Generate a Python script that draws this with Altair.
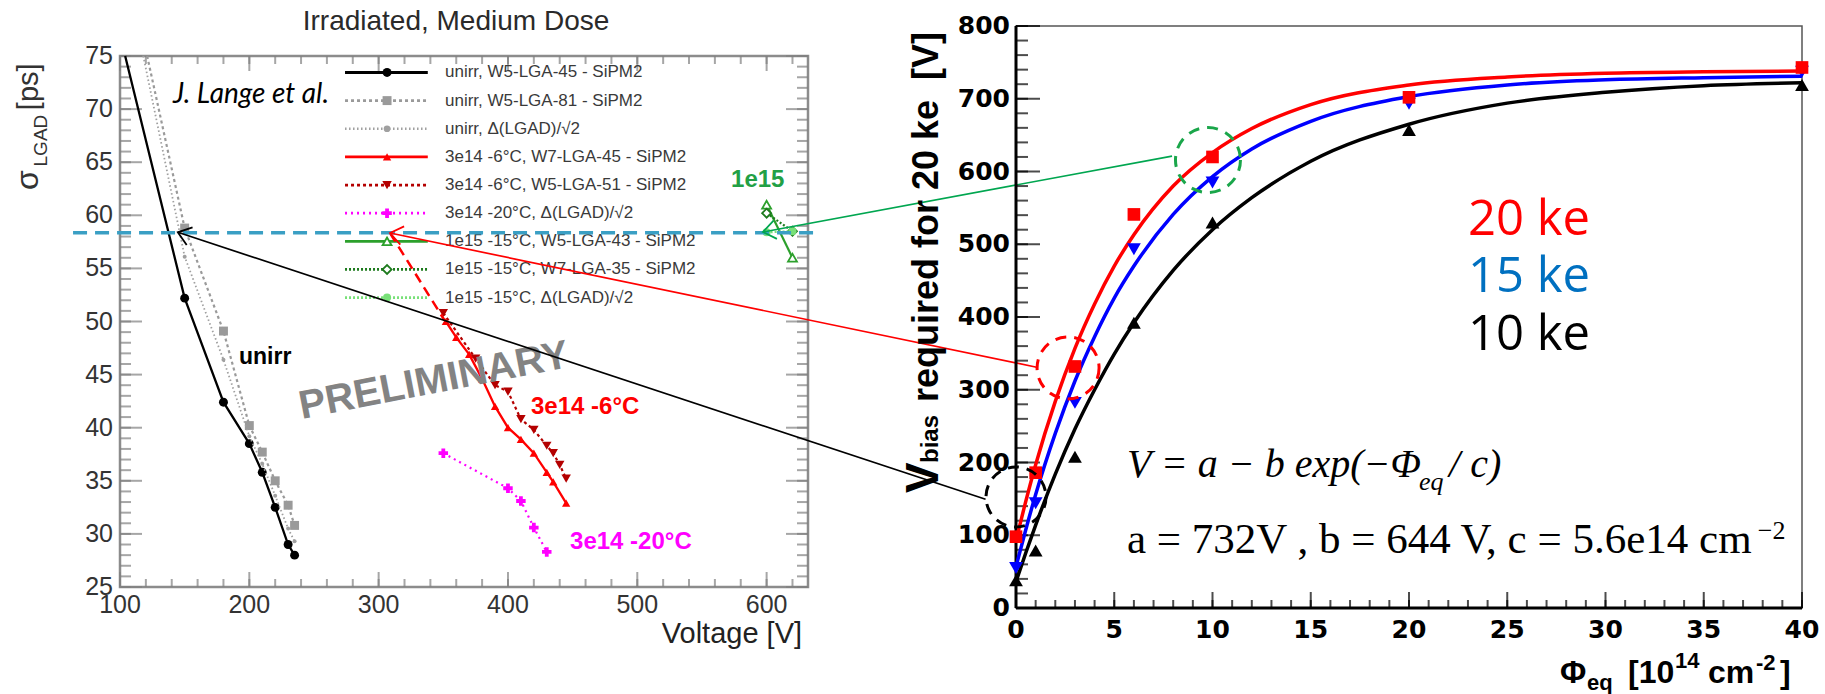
import altair as alt
import pandas as pd

W, H = 1825, 694

# ---------------- LEFT PANEL DATA : sigma_LGAD [ps] vs Voltage [V] ----------------
series_labels = [
    "unirr, W5-LGA-45 - SiPM2",
    "unirr, W5-LGA-81 - SiPM2",
    "unirr, \u0394(LGAD)/\u221a2",
    "3e14 -6\u00b0C, W7-LGA-45 - SiPM2",
    "3e14 -6\u00b0C, W5-LGA-51 - SiPM2",
    "3e14 -20\u00b0C, \u0394(LGAD)/\u221a2",
    "1e15 -15\u00b0C, W5-LGA-43 - SiPM2",
    "1e15 -15\u00b0C, W7-LGA-35 - SiPM2",
    "1e15 -15\u00b0C, \u0394(LGAD)/\u221a2",
]
v_unirr45 = [104, 150, 180, 200, 210, 220, 230, 235]
s_unirr45 = [75.0, 52.2, 42.4, 38.5, 35.8, 32.5, 29.0, 28.0]
v_unirr81 = [121, 150, 180, 200, 210, 220, 230, 235]
s_unirr81 = [75.0, 58.8, 49.1, 40.2, 37.7, 35.0, 32.7, 30.8]
v_unirrD = [118, 150, 180, 200, 210, 220, 230, 235]
s_unirrD = [75.0, 56.1, 46.4, 39.2, 36.6, 33.6, 30.5, 29.3]
v_3e14_w7 = [352, 360, 370, 380, 390, 400, 410, 420, 430, 435, 445]
s_3e14_w7 = [50.0, 48.5, 46.9, 44.6, 42.0, 40.0, 38.9, 37.6, 35.8, 34.9, 32.9]
v_3e14_w5 = [350, 375, 390, 400, 410, 420, 430, 435, 440, 445]
s_3e14_w5 = [50.8, 46.5, 44.0, 43.4, 40.8, 39.8, 38.3, 37.6, 36.5, 35.2]
v_3e14_m20 = [350, 400, 410, 420, 430]
s_3e14_m20 = [37.6, 34.3, 33.1, 30.6, 28.3]
v_1e15_w5 = [600, 620]
s_1e15_w5 = [61.0, 56.0]
v_1e15_w7 = [600, 620]
s_1e15_w7 = [60.2, 58.5]
v_1e15_D = [600, 620]
s_1e15_D = [58.4, 58.5]

left_xticks = [100, 200, 300, 400, 500, 600]
left_xminor = list(range(100, 632, 20))
left_yticks = [25, 30, 35, 40, 45, 50, 55, 60, 65, 70, 75]
left_yminor = list(range(25, 76))

# ---------------- RIGHT PANEL DATA : V_bias vs fluence ----------------
phi = [0, 1, 3, 6, 10, 20, 40]
v20ke = [98, 186, 332, 541, 620, 702, 743]
v15ke = [55, 144, 282, 493, 585, 693, 737]
v10ke = [38, 79, 208, 392, 530, 657, 719]
phi_fit = [0, 0.5, 1, 2, 3, 4, 5, 6, 8, 10, 12, 15, 20, 25, 30, 35, 40]
fit20 = [93, 147, 197, 284, 357, 418, 470, 513, 580, 626, 659, 692, 719, 730, 735, 737, 738]
fit15 = [57, 108, 156, 240, 312, 373, 426, 470, 541, 593, 631, 669, 703, 719, 726, 729, 731]
fit10 = [36, 76, 114, 184, 246, 300, 349, 392, 464, 520, 564, 614, 665, 694, 709, 718, 722]

right_xticks = [0, 5, 10, 15, 20, 25, 30, 35, 40]
right_xminor = list(range(0, 41))
right_yticks = [0, 100, 200, 300, 400, 500, 600, 700, 800]
right_yminor = list(range(0, 801, 20))

# ---------------- scales (each panel owns a region of the page) ----------------
def sc(dom, rng):
    return alt.Scale(domain=dom, range=rng, zero=False, nice=False)

LX = sc([100, 632], [120, 808])
LY = sc([25, 75], [587, 56])
RX = sc([0, 40], [1016, 1802])
RY = sc([0, 800], [608, 26])


def xy(xs, ys, xf="x", yf="y"):
    return dict(x=alt.X(f"{xf}:Q", scale=xs, axis=None), y=alt.Y(f"{yf}:Q", scale=ys, axis=None))


def text_layer(rows, xs, ys, font="Liberation Sans", weight="normal", style="normal",
               align="left", baseline="middle"):
    df = pd.DataFrame(rows, columns=["x", "y", "t", "fs", "col", "ang"])
    return alt.Chart(df).mark_text(font=font, fontWeight=weight, fontStyle=style,
                                   align=align, baseline=baseline).encode(
        **xy(xs, ys), text="t:N",
        size=alt.Size("fs:Q", scale=None),
        color=alt.Color("col:N", scale=None),
        angle=alt.Angle("ang:Q", scale=None))


def label_layer(vals, fixed, xs, ys, along_x, font, weight, size, color, align):
    if along_x:
        df = pd.DataFrame({"x": vals, "y": [fixed] * len(vals), "t": [str(v) for v in vals]})
    else:
        df = pd.DataFrame({"x": [fixed] * len(vals), "y": vals, "t": [str(v) for v in vals]})
    return alt.Chart(df).mark_text(font=font, fontWeight=weight, fontSize=size, color=color,
                                   align=align, baseline="middle").encode(**xy(xs, ys), text="t:N")


def tick_layer(vals, fixed, xs, ys, along_x, size, off, color, thick):
    if along_x:
        df = pd.DataFrame({"x": vals, "y": [fixed] * len(vals)})
        m = alt.Chart(df).mark_tick(orient="vertical", size=size, thickness=thick,
                                    color=color, yOffset=off)
    else:
        df = pd.DataFrame({"x": [fixed] * len(vals), "y": vals})
        m = alt.Chart(df).mark_tick(orient="horizontal", size=size, thickness=thick,
                                    color=color, xOffset=off)
    return m.encode(**xy(xs, ys))


# ======================= LEFT PANEL =======================
L = []
frame_l = pd.DataFrame({"x0": [100], "x1": [632], "y0": [25], "y1": [75]})
L.append(alt.Chart(frame_l).mark_rect(fillOpacity=0, stroke="#8c8c8c", strokeWidth=2.5).encode(
    x=alt.X("x0:Q", scale=LX, axis=None), x2="x1:Q",
    y=alt.Y("y0:Q", scale=LY, axis=None), y2="y1:Q"))

gcol = "#808080"
L += [
    tick_layer(left_xticks, 25, LX, LY, True, 15, -7.5, gcol, 2),
    tick_layer(left_xminor, 25, LX, LY, True, 8, -4, gcol, 2),
    tick_layer(left_xticks, 75, LX, LY, True, 15, 7.5, gcol, 2),
    tick_layer(left_xminor, 75, LX, LY, True, 8, 4, gcol, 2),
    tick_layer(left_yticks, 100, LX, LY, False, 22, 11, gcol, 2),
    tick_layer(left_yminor, 100, LX, LY, False, 11, 5.5, gcol, 2),
    tick_layer(left_yticks, 632, LX, LY, False, 22, -11, gcol, 2),
    tick_layer(left_yminor, 632, LX, LY, False, 11, -5.5, gcol, 2),
    label_layer(left_xticks, 23.3, LX, LY, True, "Liberation Sans", "normal", 25, "#333333", "center"),
    label_layer(left_yticks, 94.6, LX, LY, False, "Liberation Sans", "normal", 25, "#333333", "right"),
]

series_v = [v_unirr45, v_unirr81, v_unirrD, v_3e14_w7, v_3e14_w5, v_3e14_m20, v_1e15_w5, v_1e15_w7, v_1e15_D]
series_s = [s_unirr45, s_unirr81, s_unirrD, s_3e14_w7, s_3e14_w5, s_3e14_m20, s_1e15_w5, s_1e15_w7, s_1e15_D]
styles = [
    dict(color="#000000", dash=None, w=2.3, shape="circle", filled=True, ms=80),
    dict(color="#9a9a9a", dash=[3, 3], w=2.2, shape="square", filled=True, ms=80),
    dict(color="#a0a0a0", dash=[1.5, 2.5], w=1.8, shape="circle", filled=True, ms=16),
    dict(color="#ff0000", dash=None, w=2.3, shape="triangle-up", filled=True, ms=70),
    dict(color="#b40000", dash=[3, 3], w=2.2, shape="triangle-down", filled=True, ms=90),
    dict(color="#ff00ff", dash=[2, 4], w=2.2, shape="cross", filled=True, ms=90),
    dict(color="#2ca02c", dash=None, w=2.2, shape="triangle-up", filled=False, ms=80),
    dict(color="#1d7a1d", dash=[2, 2], w=2.2, shape="diamond", filled=False, ms=80),
    dict(color="#78e078", dash=[2, 2], w=2.2, shape="circle", filled=True, ms=65),
]

for vs, ss, st in zip(series_v, series_s, styles):
    df = pd.DataFrame({"x": vs, "y": ss})
    lk = dict(color=st["color"], strokeWidth=st["w"])
    if st["dash"]:
        lk["strokeDash"] = st["dash"]
    L.append(alt.Chart(df).mark_line(**lk).encode(**xy(LX, LY)))
    dm = df[df["y"] < 75]
    pk = dict(shape=st["shape"], filled=st["filled"], size=st["ms"], opacity=1)
    if st["filled"]:
        pk["fill"] = st["color"]
    else:
        pk["stroke"] = st["color"]
        pk["strokeWidth"] = 1.8
        pk["fill"] = "white"
    L.append(alt.Chart(dm).mark_point(**pk).encode(**xy(LX, LY)))

# legend (hand-built in panel coordinates)
leg_top, leg_step = 73.45, 2.65
leg_rows = []
for i, (lab, st) in enumerate(zip(series_labels, styles)):
    yy = leg_top - leg_step * i
    df = pd.DataFrame({"x": [274], "x2": [338], "y": [yy], "xm": [306.5]})
    rk = dict(color=st["color"], strokeWidth=st["w"] + 0.6)
    if st["dash"]:
        rk["strokeDash"] = st["dash"]
    L.append(alt.Chart(df).mark_rule(**rk).encode(
        x=alt.X("x:Q", scale=LX, axis=None), x2="x2:Q", y=alt.Y("y:Q", scale=LY, axis=None)))
    pk = dict(shape=st["shape"], filled=st["filled"], size=max(st["ms"], 45), opacity=1)
    if st["filled"]:
        pk["fill"] = st["color"]
    else:
        pk["stroke"] = st["color"]
        pk["strokeWidth"] = 1.8
        pk["fill"] = "white"
    L.append(alt.Chart(df).mark_point(**pk).encode(
        x=alt.X("xm:Q", scale=LX, axis=None), y=alt.Y("y:Q", scale=LY, axis=None)))
    leg_rows.append([351.3, yy, lab, 17, "#3a3a3a", 0])
L.append(text_layer(leg_rows, LX, LY))

# left-panel texts
L.append(text_layer([[359.8, 78.2, "Irradiated, Medium Dose", 28, "#2a2a2a", 0]], LX, LY, align="center"))
L.append(text_layer([[141.0, 70.57, "J. Lange et al.", 28, "#000000", 0]], LX, LY,
                    font="Lato", style="italic", baseline="alphabetic"))
L.append(text_layer([
    [192.0, 46.66, "unirr", 23, "#000000", 0],
    [417.8, 41.95, "3e14 -6\u00b0C", 24, "#ff0000", 0],
    [448.0, 29.24, "3e14 -20\u00b0C", 24, "#ff00ff", 0],
    [572.5, 63.3, "1e15", 24, "#22a045", 0],
], LX, LY, weight="bold"))
L.append(text_layer([[342.8, 44.4, "PRELIMINARY", 40, "#838383", 349]], LX, LY,
                    weight="bold", align="center"))
L.append(text_layer([[627.4, 20.57, "Voltage [V]", 29, "#222222", 0]], LX, LY, align="right"))
L.append(text_layer([
    [36.6, 62.38, "\u03c3", 32, "#333333", 270],
    [36.6, 69.9, "[ps]", 29, "#333333", 270],
], LX, LY, baseline="alphabetic"))
L.append(text_layer([[43.5, 64.6, "LGAD", 19, "#333333", 270]], LX, LY, baseline="alphabetic"))

# red dashed extrapolation
ext = pd.DataFrame({"x": [308.8], "x2": [351.0], "y": [58.33], "y2": [50.1]})
L.append(alt.Chart(ext).mark_rule(color="#ff0000", strokeWidth=2.5, strokeDash=[10, 6]).encode(
    x=alt.X("x:Q", scale=LX, axis=None), x2="x2:Q", y=alt.Y("y:Q", scale=LY, axis=None), y2="y2:Q"))

# cyan dashed reference level
cy = pd.DataFrame({"x": [63.7], "x2": [637.4], "y": [58.35]})
L.append(alt.Chart(cy).mark_rule(color="#3a9fc4", strokeWidth=3.5, strokeDash=[14, 8]).encode(
    x=alt.X("x:Q", scale=LX, axis=None), x2="x2:Q", y=alt.Y("y:Q", scale=LY, axis=None)))

# connecting arrows (expressed in left-panel units)
arrows = pd.DataFrame({
    "x": [769.3, 808.8, 913.5], "y": [33.26, 45.69, 65.58],
    "x2": [144.7, 308.8, 597.2], "y2": [58.40, 58.33, 58.43],
    "col": ["#000000", "#ff0000", "#00a650"], "ang": [198.3, 191.7, 169.5],
})
L.append(alt.Chart(arrows).mark_rule(strokeWidth=1.7).encode(
    x=alt.X("x:Q", scale=LX, axis=None), x2="x2:Q", y=alt.Y("y:Q", scale=LY, axis=None), y2="y2:Q",
    color=alt.Color("col:N", scale=None)))
L.append(alt.Chart(arrows).mark_point(shape="M-1,-0.75L0,0L-1,0.75", filled=False, size=620,
                                      strokeWidth=1.8, opacity=1).encode(
    x=alt.X("x2:Q", scale=LX, axis=None), y=alt.Y("y2:Q", scale=LY, axis=None),
    stroke=alt.Color("col:N", scale=None), angle=alt.Angle("ang:Q", scale=None)))

left = alt.layer(*L)

# ======================= RIGHT PANEL =======================
R = []
frame_r = pd.DataFrame({"x0": [0], "x1": [40], "y0": [0], "y1": [800]})
R.append(alt.Chart(frame_r).mark_rect(fillOpacity=0, stroke="#555555", strokeWidth=1.5).encode(
    x=alt.X("x0:Q", scale=RX, axis=None), x2="x1:Q",
    y=alt.Y("y0:Q", scale=RY, axis=None), y2="y1:Q"))
R.append(alt.Chart(frame_r).mark_rule(color="#000000", strokeWidth=3).encode(
    x=alt.X("x0:Q", scale=RX, axis=None), x2="x1:Q", y=alt.Y("y0:Q", scale=RY, axis=None)))
R.append(alt.Chart(frame_r).mark_rule(color="#000000", strokeWidth=3).encode(
    x=alt.X("x0:Q", scale=RX, axis=None), y=alt.Y("y0:Q", scale=RY, axis=None), y2="y1:Q"))
R += [
    tick_layer(right_xticks, 0, RX, RY, True, 16, -8, "#000000", 2),
    tick_layer(right_xminor, 0, RX, RY, True, 8, -4, "#000000", 2),
    tick_layer(right_yticks, 0, RX, RY, False, 24, 12, "#000000", 2),
    tick_layer(right_yminor, 0, RX, RY, False, 12, 6, "#000000", 2),
    label_layer(right_xticks, -30.2, RX, RY, True, "DejaVu Sans", "bold", 25, "#000000", "center"),
    label_layer(right_yticks, -0.305, RX, RY, False, "DejaVu Sans", "bold", 25, "#000000", "right"),
]

for fit, col in [(fit10, "#000000"), (fit15, "#0000ff"), (fit20, "#ff0000")]:
    R.append(alt.Chart(pd.DataFrame({"x": phi_fit, "y": fit})).mark_line(
        color=col, strokeWidth=3.5, interpolate="monotone").encode(**xy(RX, RY)))
for vals, col, shp, ms in [(v10ke, "#000000", "triangle-up", 190), (v15ke, "#0000ff", "triangle-down", 190),
                           (v20ke, "#ff0000", "square", 160)]:
    R.append(alt.Chart(pd.DataFrame({"x": phi, "y": vals})).mark_point(
        shape=shp, filled=True, fill=col, size=ms, opacity=1).encode(**xy(RX, RY)))

circles = pd.DataFrame({"x": [9.77, 2.65, 0.0], "y": [615.8, 330.0, 152.6],
                        "col": ["#1aa64a", "#ff0000", "#000000"], "sz": [4225, 3844, 3600]})
R.append(alt.Chart(circles).mark_point(shape="circle", filled=False, strokeWidth=3,
                                       strokeDash=[11, 8], opacity=1).encode(
    **xy(RX, RY), stroke=alt.Color("col:N", scale=None), size=alt.Size("sz:Q", scale=None)))

R.append(text_layer([
    [23.0, 533.3, "20 ke", 49, "#ff0000", 0],
    [23.0, 455.0, "15 ke", 49, "#0070c0", 0],
    [23.0, 375.3, "10 ke", 49, "#000000", 0],
], RX, RY, font="Open Sans"))

R.append(text_layer([
    [5.65, 180.1, "V = a \u2212 b exp(\u2212\u03a6", 40, "#000000", 0],
    [20.51, 162.2, "eq", 26, "#000000", 0],
    [22.04, 180.1, "/ c)", 40, "#000000", 0],
], RX, RY, font="Liberation Serif", style="italic", baseline="alphabetic"))
R.append(text_layer([
    [5.65, 75.6, "a = 732V , b = 644 V, c = 5.6e14 cm", 43, "#000000", 0],
    [37.75, 95.0, "\u22122", 26, "#000000", 0],
], RX, RY, font="Liberation Serif", baseline="alphabetic"))

R.append(text_layer([
    [-3.97, 158.1, "V", 46, "#000000", 270],
    [-3.97, 199.3, "bias", 24, "#000000", 270],
    [-3.97, 283.0, "required for 20 ke \u00a0[V]", 36, "#000000", 270],
    [27.68, -103.1, "\u03a6", 32, "#000000", 0],
    [29.06, -112.7, "eq", 22, "#000000", 0],
    [31.15, -103.1, "[10", 32, "#000000", 0],
    [33.54, -82.5, "14", 22, "#000000", 0],
    [35.22, -103.1, "cm", 32, "#000000", 0],
    [37.66, -85.2, "-2", 22, "#000000", 0],
    [38.88, -103.1, "]", 32, "#000000", 0],
], RX, RY, weight="bold", baseline="alphabetic"))

right = alt.layer(*R)

chart = alt.layer(left, right).resolve_scale(x="independent", y="independent").properties(
    width=W, height=H, autosize=alt.AutoSizeParams(type="none"), padding=0
).configure_view(stroke=None)

chart.save("out.html", embed_options={"renderer": "svg", "actions": False})
